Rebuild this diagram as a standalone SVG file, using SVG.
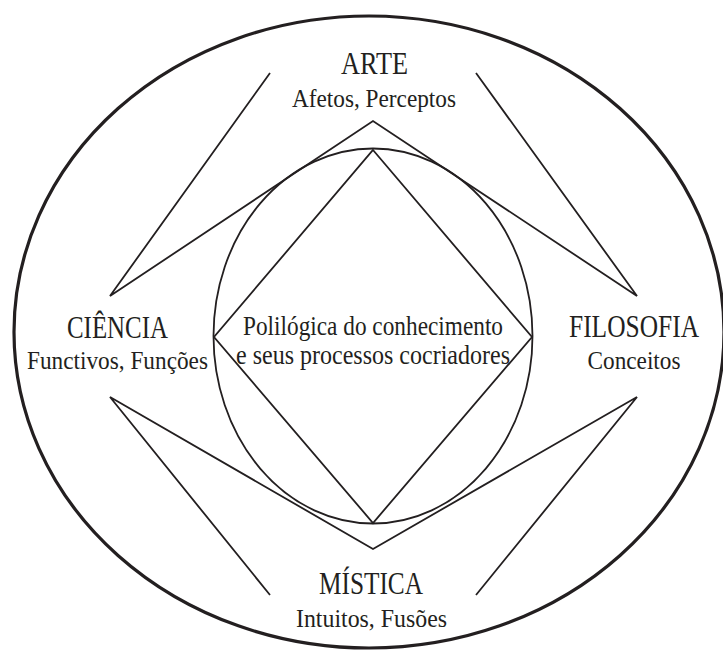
<svg xmlns="http://www.w3.org/2000/svg" width="723" height="654" viewBox="0 0 723 654">
<style>
.ln{fill:none;stroke:#231f20;stroke-width:1.8;stroke-linejoin:miter}
.outer{fill:none;stroke:#231f20;stroke-width:3.2}
text{font-family:"Liberation Serif","DejaVu Serif",serif;fill:#231f20;text-anchor:middle}
.h{font-size:31px}
.s{font-size:26px}
.c{font-size:27px}
</style>
<rect width="723" height="654" fill="#ffffff"/>
<g id="frame">
<ellipse class="outer" cx="369" cy="332" rx="355" ry="316"/>
<ellipse class="ln" cx="373" cy="336" rx="159.5" ry="187.5"/>
</g>
<g id="connectors">
<polygon class="ln" points="373,150 532,337 373,523 214,337"/>
<polyline class="ln" points="270,73 110,296 373,121 637,296 476,73"/>
<polyline class="ln" points="270,595 110,397 373,549 637,397 476,595"/>
</g>
<g id="arte">
<text class="h" x="374.5" y="74" textLength="67" lengthAdjust="spacingAndGlyphs">ARTE</text>
<text class="s" x="374" y="107" textLength="164" lengthAdjust="spacingAndGlyphs">Afetos, Perceptos</text>
</g>
<g id="ciencia">
<text class="h" x="117.5" y="338" textLength="101" lengthAdjust="spacingAndGlyphs">CIÊNCIA</text>
<text class="s" x="117.5" y="369" textLength="181" lengthAdjust="spacingAndGlyphs">Functivos, Funções</text>
</g>
<g id="filosofia">
<text class="h" x="634" y="337" textLength="130" lengthAdjust="spacingAndGlyphs">FILOSOFIA</text>
<text class="s" x="634" y="369" textLength="93" lengthAdjust="spacingAndGlyphs">Conceitos</text>
</g>
<g id="mistica">
<text class="h" x="371" y="594" textLength="104" lengthAdjust="spacingAndGlyphs">MÍSTICA</text>
<text class="s" x="371.5" y="627" textLength="151" lengthAdjust="spacingAndGlyphs">Intuitos, Fusões</text>
</g>
<g id="center">
<text class="c" x="373" y="335" textLength="260" lengthAdjust="spacingAndGlyphs">Polilógica do conhecimento</text>
<text class="c" x="373" y="364" textLength="274" lengthAdjust="spacingAndGlyphs">e seus processos cocriadores</text>
</g>
</svg>
